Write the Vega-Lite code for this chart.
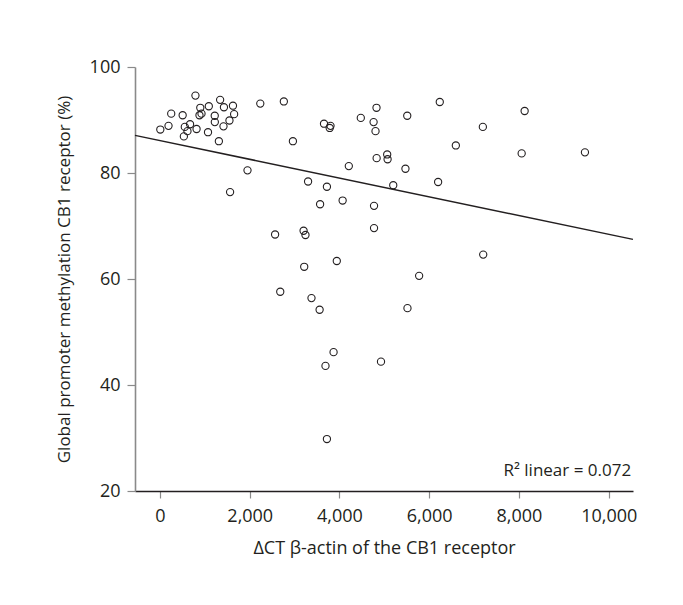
{
  "$schema": "https://vega.github.io/schema/vega-lite/v6.json",
  "autosize": "none",
  "width": 498,
  "height": 424,
  "padding": {"left": 135, "top": 67, "right": 50, "bottom": 114},
  "background": "white",
  "config": {
    "view": {"stroke": null},
    "font": "Open Sans",
    "axis": {"grid": false, "labelFont": "Open Sans", "titleFont": "Open Sans", "labelFontSize": 18, "titleFontSize": 17, "labelColor": "#231f20", "titleColor": "#231f20", "titleFontWeight": "normal"}
  },
  "data": {
    "values": [
      {"x": 7, "y": 88.2}, {"x": 190, "y": 88.9}, {"x": 250, "y": 91.2}, {"x": 505, "y": 90.9},
      {"x": 532, "y": 86.9}, {"x": 553, "y": 88.7}, {"x": 612, "y": 87.9}, {"x": 670, "y": 89.2},
      {"x": 790, "y": 94.6}, {"x": 815, "y": 88.3}, {"x": 880, "y": 90.9}, {"x": 898, "y": 92.3},
      {"x": 925, "y": 91.2}, {"x": 1070, "y": 87.7}, {"x": 1088, "y": 92.6}, {"x": 1220, "y": 90.8},
      {"x": 1222, "y": 89.6}, {"x": 1312, "y": 86.0}, {"x": 1340, "y": 93.8}, {"x": 1425, "y": 92.4},
      {"x": 1415, "y": 88.8}, {"x": 1548, "y": 89.9}, {"x": 1562, "y": 76.4}, {"x": 1626, "y": 92.7},
      {"x": 1652, "y": 91.1}, {"x": 1950, "y": 80.5}, {"x": 2235, "y": 93.1}, {"x": 2565, "y": 68.4},
      {"x": 2680, "y": 57.6}, {"x": 2760, "y": 93.5}, {"x": 2962, "y": 86.0}, {"x": 3200, "y": 69.1},
      {"x": 3214, "y": 62.3}, {"x": 3242, "y": 68.3}, {"x": 3300, "y": 78.4}, {"x": 3376, "y": 56.4},
      {"x": 3557, "y": 54.2}, {"x": 3568, "y": 74.1}, {"x": 3655, "y": 89.3}, {"x": 3688, "y": 43.6},
      {"x": 3720, "y": 77.4}, {"x": 3720, "y": 29.8}, {"x": 3782, "y": 88.5}, {"x": 3800, "y": 88.9},
      {"x": 3868, "y": 46.2}, {"x": 3940, "y": 63.4}, {"x": 4070, "y": 74.8}, {"x": 4208, "y": 81.3},
      {"x": 4475, "y": 90.4}, {"x": 4760, "y": 89.6}, {"x": 4770, "y": 73.8}, {"x": 4770, "y": 69.6},
      {"x": 4803, "y": 87.9}, {"x": 4825, "y": 92.3}, {"x": 4828, "y": 82.8}, {"x": 4925, "y": 44.4},
      {"x": 5063, "y": 83.5}, {"x": 5072, "y": 82.6}, {"x": 5198, "y": 77.7}, {"x": 5470, "y": 80.8},
      {"x": 5510, "y": 90.8}, {"x": 5515, "y": 54.5}, {"x": 5775, "y": 60.6}, {"x": 6198, "y": 78.3},
      {"x": 6235, "y": 93.4}, {"x": 6593, "y": 85.2}, {"x": 7195, "y": 88.7}, {"x": 7203, "y": 64.6},
      {"x": 8060, "y": 83.7}, {"x": 8126, "y": 91.7}, {"x": 9470, "y": 83.9}
    ]
  },
  "layer": [
    {
      "mark": {"type": "point", "shape": "circle", "filled": false, "stroke": "#231f20", "strokeWidth": 1.1, "size": 52, "opacity": 1},
      "encoding": {
        "x": {"field": "x", "type": "quantitative", "scale": {"domain": [-557, 10541], "nice": false, "zero": false},
          "axis": {"values": [0, 2000, 4000, 6000, 8000, 10000], "format": ",.0f", "title": "ΔCT β-actin of the CB1 receptor", "titleFontSize": 18,
            "domainColor": "#231f20", "domainWidth": 1.3, "tickColor": "#8a8a8a", "tickSize": 7, "tickWidth": 1.2, "labelPadding": 9, "titlePadding": 14}},
        "y": {"field": "y", "type": "quantitative", "scale": {"domain": [20, 100], "nice": false, "zero": false},
          "axis": {"values": [20, 40, 60, 80, 100], "title": "Global promoter methylation CB1 receptor (%)",
            "domainColor": "#8a8a8a", "domainWidth": 1.6, "tickColor": "#8a8a8a", "tickSize": 8, "tickWidth": 1.2, "labelPadding": 7, "titlePadding": 16}}
      }
    },
    {
      "transform": [{"regression": "y", "on": "x", "extent": [-557, 10541]}],
      "mark": {"type": "line", "color": "#231f20", "strokeWidth": 1.5},
      "encoding": {
        "x": {"field": "x", "type": "quantitative"},
        "y": {"field": "y", "type": "quantitative"}
      }
    },
    {
      "data": {"values": [{"label": "R² linear = 0.072"}]},
      "mark": {"type": "text", "align": "right", "baseline": "alphabetic", "fontSize": 17, "color": "#231f20", "font": "Open Sans"},
      "encoding": {
        "x": {"datum": 10500},
        "y": {"datum": 22.8},
        "text": {"field": "label"}
      }
    }
  ]
}
